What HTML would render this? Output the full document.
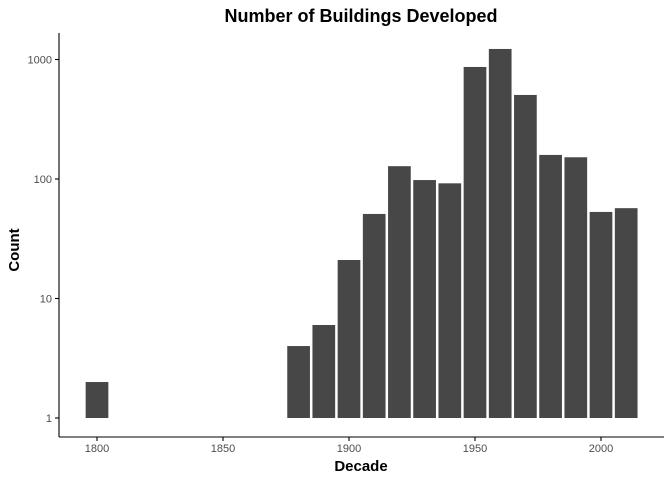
<!DOCTYPE html>
<html><head><meta charset="utf-8">
<style>
body{margin:0;background:#fff;font-family:"Liberation Sans",Arial,sans-serif;}
svg{display:block}
</style></head>
<body>
<svg id="chart" width="672" height="480">
<text x="361" y="22" text-anchor="middle" font-size="18" font-weight="bold">Number of Buildings Developed</text>
<text x="361" y="471" text-anchor="middle" font-size="15" font-weight="bold">Decade</text>
<text transform="translate(19,250) rotate(-90)" text-anchor="middle" font-size="15" font-weight="bold">Count</text>
<g id="bars"></g>
<g id="axes"></g>
</svg>
<script>
const decades=[1800,1880,1890,1900,1910,1920,1930,1940,1950,1960,1970,1980,1990,2000,2010];
const counts=[2,4,6,21,51,128,98,92,866,1225,505,159,152,53,57];
const xTicks=[1800,1850,1900,1950,2000];
const yTicks=[1,10,100,1000];

const NS="http://www.w3.org/2000/svg";
const xScale=v=>97+(v-1800)*2.52;
const yScale=v=>418-Math.log10(v)*119.5;
const bw=22.7;
const bars=document.getElementById('bars');
decades.forEach((d,i)=>{
  const r=document.createElementNS(NS,'rect');
  const y=yScale(counts[i]);
  r.setAttribute('x',xScale(d)-bw/2);
  r.setAttribute('y',y);
  r.setAttribute('width',bw);
  r.setAttribute('height',yScale(1)-y);
  r.setAttribute('fill','#474747');
  
  
  bars.appendChild(r);
});
const axes=document.getElementById('axes');
function line(x1,y1,x2,y2,name){
  const l=document.createElementNS(NS,'line');
  l.setAttribute('x1',x1);l.setAttribute('y1',y1);l.setAttribute('x2',x2);l.setAttribute('y2',y2);
  l.setAttribute('stroke','#000');l.setAttribute('stroke-width','1.1');
  
  
  axes.appendChild(l);
}
function text(x,y,s,anchor,name){
  const t=document.createElementNS(NS,'text');
  t.setAttribute('x',x);t.setAttribute('y',y);t.setAttribute('text-anchor',anchor);
  t.setAttribute('font-size','11');t.setAttribute('fill','#4d4d4d');
  t.textContent=s;
  
  
  axes.appendChild(t);
}
line(59,33,59,437,'y-axis-line');
line(59,437,664,437,'x-axis-line');
xTicks.forEach(v=>{
  const x=xScale(v);
  line(x,437,x,441,'x-tick');
  text(x,452,String(v),'middle','x-tick-label');
});
yTicks.forEach(v=>{
  const y=yScale(v);
  line(55,y,59,y,'y-tick');
  text(52,y+4,String(v),'end','y-tick-label');
});
</script>
</body></html>
